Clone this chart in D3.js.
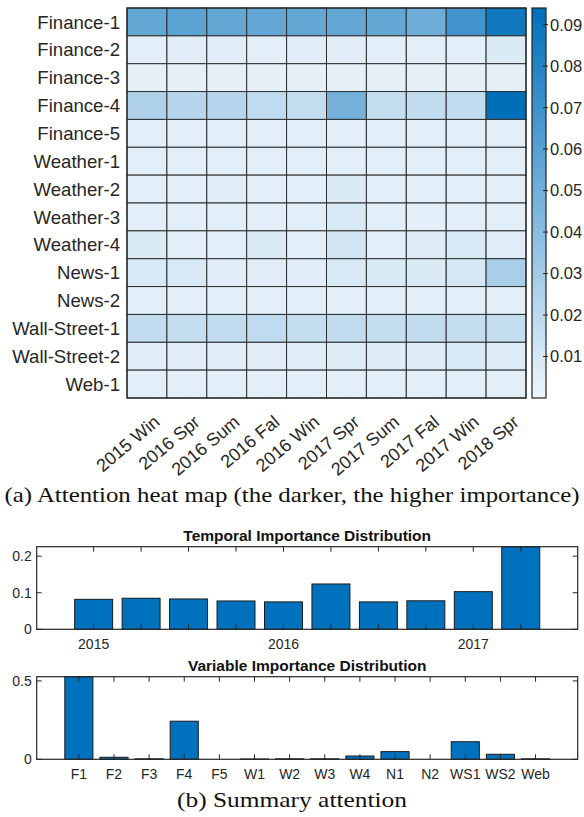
<!DOCTYPE html>
<html>
<head>
<meta charset="utf-8">
<script src="https://cdn.jsdelivr.net/npm/d3@7"></script>
<style>
  html, body { margin: 0; padding: 0; background: #fff; }
  svg { display: block; }
  .sans { font-family: "Liberation Sans", Arial, Helvetica, sans-serif; fill: #262626; }
  .serif { font-family: "Liberation Serif", "DejaVu Serif", serif; fill: #111; }
</style>
</head>
<body>
<svg id="fig" width="584" height="817"></svg>
<script>
// ---- data ----
const periods = ["2015 Win", "2016 Spr", "2016 Sum", "2016 Fal", "2016 Win",
                 "2017 Spr", "2017 Sum", "2017 Fal", "2017 Win", "2018 Spr"];
const variables = ["Finance-1", "Finance-2", "Finance-3", "Finance-4", "Finance-5",
                   "Weather-1", "Weather-2", "Weather-3", "Weather-4",
                   "News-1", "News-2", "Wall-Street-1", "Wall-Street-2", "Web-1"];
// attention weight per variable (row) and period (column)
const attention = [
  [0.055, 0.058, 0.055, 0.056, 0.055, 0.055, 0.055, 0.051, 0.068, 0.088],
  [0.005, 0.006, 0.006, 0.005, 0.006, 0.006, 0.005, 0.005, 0.005, 0.008],
  [0.004, 0.004, 0.004, 0.004, 0.004, 0.004, 0.004, 0.004, 0.004, 0.004],
  [0.025, 0.022, 0.022, 0.019, 0.017, 0.048, 0.017, 0.018, 0.018, 0.094],
  [0.005, 0.005, 0.005, 0.005, 0.005, 0.005, 0.005, 0.005, 0.005, 0.005],
  [0.005, 0.005, 0.005, 0.005, 0.005, 0.005, 0.005, 0.005, 0.005, 0.005],
  [0.005, 0.005, 0.006, 0.005, 0.005, 0.008, 0.005, 0.005, 0.005, 0.005],
  [0.005, 0.005, 0.005, 0.005, 0.005, 0.009, 0.005, 0.005, 0.005, 0.005],
  [0.008, 0.005, 0.005, 0.008, 0.005, 0.011, 0.005, 0.007, 0.009, 0.006],
  [0.009, 0.009, 0.006, 0.006, 0.006, 0.009, 0.008, 0.008, 0.010, 0.028],
  [0.005, 0.005, 0.005, 0.005, 0.005, 0.005, 0.005, 0.005, 0.005, 0.005],
  [0.018, 0.017, 0.018, 0.019, 0.017, 0.018, 0.017, 0.018, 0.017, 0.017],
  [0.006, 0.006, 0.006, 0.006, 0.006, 0.007, 0.007, 0.007, 0.009, 0.007],
  [0.005, 0.005, 0.005, 0.005, 0.005, 0.005, 0.005, 0.005, 0.005, 0.005]
];
const colorbarTicks = [0.01, 0.02, 0.03, 0.04, 0.05, 0.06, 0.07, 0.08, 0.09];

// summary over periods
const temporalImportance = [0.082, 0.085, 0.083, 0.0775, 0.075, 0.124, 0.075, 0.078, 0.103, 0.226];
const temporalYTicks = [0, 0.1, 0.2];
const yearTickIndex = [1, 5, 9];
const yearTickLabels = ["2015", "2016", "2017"];

// summary over variables
const variableShort = ["F1", "F2", "F3", "F4", "F5", "W1", "W2", "W3", "W4", "N1", "N2", "WS1", "WS2", "Web"];
const variableImportance = [0.527, 0.013, 0.003, 0.243, 0.0, 0.002, 0.003, 0.003, 0.021, 0.049, 0.0, 0.112, 0.032, 0.003];
const variableYTicks = [0, 0.5];

const svg = d3.select("#fig");
svg.append("rect").attr("width", 584).attr("height", 817).attr("fill", "#fff");

// ---- (a) heat map ----
const hm = { left: 127, right: 526, top: 8, bottom: 398 };
const cMax = 0.094;
const color = d3.scaleLinear().domain([0, cMax]).range(["#eff6fc", "#006fba"]).interpolate(d3.interpolateRgb);
const xBand = d3.scaleBand().domain(periods).range([hm.left, hm.right]);
const yBand = d3.scaleBand().domain(variables).range([hm.top, hm.bottom]);

const cells = [];
attention.forEach((row, i) => row.forEach((v, j) => cells.push({ r: variables[i], c: periods[j], v })));
svg.append("g").selectAll("rect").data(cells).join("rect")
  .attr("x", d => xBand(d.c)).attr("y", d => yBand(d.r))
  .attr("width", xBand.bandwidth()).attr("height", yBand.bandwidth())
  .attr("fill", d => color(d.v))
  .attr("stroke", "#2e2e2e").attr("stroke-width", 1);

svg.append("rect").attr("x", hm.left).attr("y", hm.top)
  .attr("width", hm.right - hm.left).attr("height", hm.bottom - hm.top)
  .attr("fill", "none").attr("stroke", "#222").attr("stroke-width", 1.2);

svg.append("g").selectAll("text").data(variables).join("text")
  .attr("class", "sans")
  .attr("x", hm.left - 7)
  .attr("y", d => yBand(d) + yBand.bandwidth() / 2)
  .attr("dy", "0.36em")
  .attr("text-anchor", "end")
  .attr("font-size", 18.6)
  .text(d => d);

svg.append("g").selectAll("text").data(periods).join("text")
  .attr("class", "sans")
  .attr("text-anchor", "end")
  .attr("font-size", 18)
  .attr("transform", d => `translate(${xBand(d) + xBand.bandwidth() / 2 + 10},${hm.bottom + 21}) rotate(-40)`)
  .attr("dy", "0.35em")
  .text(d => d);

// colour bar
const cb = { left: 532, right: 546, top: 8, bottom: 398 };
const cbScale = d3.scaleLinear().domain([0, cMax]).range([cb.bottom, cb.top]);
const grad = svg.append("defs").append("linearGradient")
  .attr("id", "cbgrad").attr("x1", 0).attr("y1", 1).attr("x2", 0).attr("y2", 0);
d3.range(0, 11).forEach(k => {
  grad.append("stop").attr("offset", k / 10).attr("stop-color", color(cMax * k / 10));
});
svg.append("rect").attr("x", cb.left).attr("y", cb.top)
  .attr("width", cb.right - cb.left).attr("height", cb.bottom - cb.top)
  .attr("fill", "url(#cbgrad)").attr("stroke", "#222").attr("stroke-width", 1.2);
const cbAxis = svg.append("g");
cbAxis.selectAll("line").data(colorbarTicks).join("line")
  .attr("x1", cb.right - 3).attr("x2", cb.right + 2)
  .attr("y1", d => cbScale(d)).attr("y2", d => cbScale(d))
  .attr("stroke", "#222").attr("stroke-width", 1);
cbAxis.selectAll("text").data(colorbarTicks).join("text")
  .attr("class", "sans")
  .attr("x", cb.right + 4)
  .attr("y", d => cbScale(d)).attr("dy", "0.36em")
  .attr("font-size", 16.5)
  .text(d => d.toFixed(2));

svg.append("text").attr("class", "serif")
  .attr("x", 292).attr("y", 502).attr("text-anchor", "middle")
  .attr("font-size", 21.5)
  .attr("textLength", 575).attr("lengthAdjust", "spacingAndGlyphs")
  .text("(a) Attention heat map (the darker, the higher importance)");

// ---- (b) summary bar charts ----
function barPanel(opts) {
  const { top, bottom, values, yMax, yTicks, xTickIdx, xTickLabels, title } = opts;
  const left = 36.7, right = 577.7;
  const n = values.length;
  const x = d3.scaleLinear().domain([-0.2, n + 1.2]).range([left, right]);
  const y = d3.scaleLinear().domain([0, yMax]).range([bottom, top]);
  const g = svg.append("g");
  const bw = x(0.8) - x(0);

  const clipId = "clip" + Math.round(top);
  g.append("clipPath").attr("id", clipId).append("rect")
    .attr("x", left).attr("y", top - 1).attr("width", right - left).attr("height", bottom - top + 2);

  g.append("g").attr("clip-path", `url(#${clipId})`).selectAll("rect").data(values).join("rect")
    .attr("x", (d, i) => x(i + 1) - bw / 2)
    .attr("y", d => y(d))
    .attr("width", bw)
    .attr("height", d => y(0) - y(d))
    .attr("fill", "#0072bd")
    .attr("stroke", "#1a1a1a").attr("stroke-width", 1);

  // axes box
  g.append("rect").attr("x", left).attr("y", top).attr("width", right - left).attr("height", bottom - top)
    .attr("fill", "none").attr("stroke", "#262626").attr("stroke-width", 1.2);

  // x ticks (inside, bottom and top)
  const xt = d3.range(1, n + 1);
  g.selectAll(".xtb").data(xt).join("line")
    .attr("x1", d => x(d)).attr("x2", d => x(d))
    .attr("y1", bottom).attr("y2", bottom - 5)
    .attr("stroke", "#262626");
  g.selectAll(".xtt").data(xt).join("line")
    .attr("x1", d => x(d)).attr("x2", d => x(d))
    .attr("y1", top).attr("y2", top + 5)
    .attr("stroke", "#262626");
  // y ticks (inside, left and right)
  g.selectAll(".ytl").data(yTicks).join("line")
    .attr("x1", left).attr("x2", left + 5)
    .attr("y1", d => y(d)).attr("y2", d => y(d))
    .attr("stroke", "#262626");
  g.selectAll(".ytr").data(yTicks).join("line")
    .attr("x1", right).attr("x2", right - 5)
    .attr("y1", d => y(d)).attr("y2", d => y(d))
    .attr("stroke", "#262626");
  g.selectAll(".ytxt").data(yTicks).join("text")
    .attr("class", "sans")
    .attr("x", left - 5).attr("y", d => y(d)).attr("dy", "0.36em")
    .attr("text-anchor", "end").attr("font-size", 14)
    .text(d => d3.format("~g")(d));
  g.selectAll(".xtxt").data(xTickIdx).join("text")
    .attr("class", "sans")
    .attr("x", d => x(d)).attr("y", bottom + 15).attr("dy", "0.36em")
    .attr("text-anchor", "middle").attr("font-size", 14)
    .text((d, i) => xTickLabels[i]);
  g.append("text").attr("class", "sans")
    .attr("x", (left + right) / 2).attr("y", top - 6)
    .attr("text-anchor", "middle").attr("font-size", 15.5).attr("font-weight", "bold")
    .style("fill", "#111")
    .text(title);
}

barPanel({
  top: 546.7, bottom: 629.3, values: temporalImportance, yMax: 0.226,
  yTicks: temporalYTicks, xTickIdx: yearTickIndex, xTickLabels: yearTickLabels,
  title: "Temporal Importance Distribution"
});
barPanel({
  top: 676.7, bottom: 759.3, values: variableImportance, yMax: 0.527,
  yTicks: variableYTicks, xTickIdx: d3.range(1, variableShort.length + 1), xTickLabels: variableShort,
  title: "Variable Importance Distribution"
});

svg.append("text").attr("class", "serif")
  .attr("x", 292).attr("y", 807).attr("text-anchor", "middle")
  .attr("font-size", 21.5)
  .attr("textLength", 230).attr("lengthAdjust", "spacingAndGlyphs")
  .text("(b) Summary attention");
</script>
</body>
</html>
